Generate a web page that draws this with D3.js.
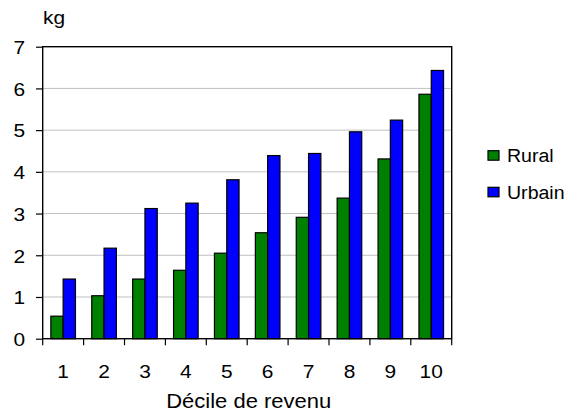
<!DOCTYPE html>
<html>
<head>
<meta charset="utf-8">
<script src="https://cdn.jsdelivr.net/npm/d3@7"></script>
<style>
html,body{margin:0;padding:0;background:#fff;}
svg{display:block;font-family:"Liberation Sans",Arial,sans-serif;}
</style>
</head>
<body>
<svg id="chart" width="568" height="412"></svg>
<script>
const categories = ["1","2","3","4","5","6","7","8","9","10"];
const rural = [0.54,1.03,1.43,1.64,2.05,2.54,2.91,3.37,4.31,5.86];
const urbain = [1.43,2.17,3.12,3.25,3.81,4.39,4.44,4.96,5.24,6.43];
const seriesNames = ["Rural","Urbain"];
const seriesColors = ["#008000","#0000ff"];
const yTicks = [0,1,2,3,4,5,6,7];

const svg = d3.select("#chart");
const L = 42.7, R = 451.7, T = 46.7, B = 338.7;
const fs = 19;
const sx = 1.1;

const x = d3.scaleBand().domain(categories).range([L,R]).paddingInner(0).paddingOuter(0);
const xs = d3.scaleBand().domain(seriesNames).range([0,x.bandwidth()]).paddingInner(0).paddingOuter(0.663);
const y = d3.scaleLinear().domain([0,7]).range([B,T]);

// gridlines
svg.append("g").selectAll("line").data(yTicks.filter(d=>d>0 && d<7)).join("line")
  .attr("x1",L).attr("x2",R).attr("y1",d=>y(d)).attr("y2",d=>y(d))
  .attr("stroke","#c0c0c0").attr("stroke-width",1);

// bars
const data = categories.map((c,i)=>({c, vals:[rural[i],urbain[i]]}));
const g = svg.append("g").selectAll("g").data(data).join("g")
  .attr("transform",d=>`translate(${x(d.c)},0)`);
g.selectAll("rect").data(d=>d.vals.map((v,j)=>({v,s:seriesNames[j],j}))).join("rect")
  .attr("x",d=>xs(d.s)).attr("width",xs.bandwidth())
  .attr("y",d=>y(d.v)).attr("height",d=>B-y(d.v))
  .attr("fill",d=>seriesColors[d.j]).attr("stroke","#000").attr("stroke-width",1.2);

// frame
svg.append("rect").attr("x",L).attr("y",T).attr("width",R-L).attr("height",B-T)
  .attr("fill","none").attr("stroke","#000").attr("stroke-width",1.4);

// y axis
const yAxis = d3.axisLeft(y).tickValues(yTicks).tickSize(6.7).tickPadding(0).tickFormat(d3.format("d"));
const ya = svg.append("g").attr("transform",`translate(${L},0)`).call(yAxis);
ya.select(".domain").remove();
ya.selectAll("line").attr("stroke","#000").attr("stroke-width",1.2);
ya.selectAll("text").attr("font-size",fs).attr("fill","#000")
  .attr("font-family","Liberation Sans, Arial, sans-serif")
  .attr("x",0).attr("dy","0.36em")
  .attr("transform",`translate(-17.5,0) scale(${sx},1)`);

// x axis
const xAxis = d3.axisBottom(x).tickSize(0).tickPadding(0);
const xa = svg.append("g").attr("transform",`translate(0,${B})`).call(xAxis);
xa.select(".domain").remove();
xa.selectAll("text").attr("font-size",fs).attr("fill","#000")
  .attr("font-family","Liberation Sans, Arial, sans-serif")
  .attr("y",0).attr("dy",0)
  .attr("transform",`translate(0,39) scale(${sx},1)`);
// category boundary ticks
const bounds = categories.map(c=>x(c)).concat([R]);
svg.append("g").selectAll("line").data(bounds).join("line")
  .attr("x1",d=>d).attr("x2",d=>d).attr("y1",B).attr("y2",B+6.5)
  .attr("stroke","#000").attr("stroke-width",1.2);

// titles
svg.append("text").attr("transform",`translate(43,24) scale(${sx},1)`).attr("font-size",fs).text("kg");
svg.append("text").attr("transform",`translate(${(L+R)/2+1.5},408) scale(${sx},1)`)
  .attr("text-anchor","middle").attr("font-size",fs+1).text("Décile de revenu");

// legend
const lg = svg.append("g").selectAll("g").data(seriesNames).join("g")
  .attr("transform",(d,i)=>`translate(488,${150.7+i*36.6})`);
lg.append("rect").attr("x",0).attr("y",0).attr("width",11).attr("height",9.5)
  .attr("fill",(d,i)=>seriesColors[i]).attr("stroke","#000").attr("stroke-width",1.2);
lg.append("text").attr("transform",`translate(19,11.7) scale(1.03,1)`).attr("font-size",fs).text(d=>d);
</script>
</body>
</html>
